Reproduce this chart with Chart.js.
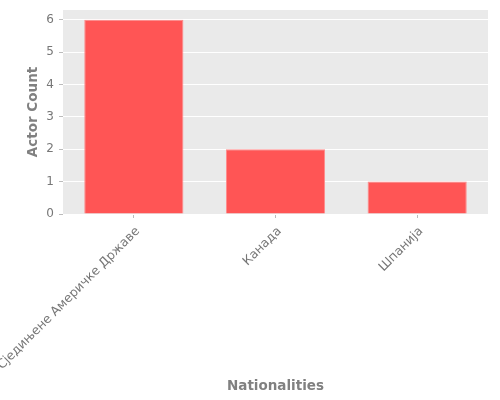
<!DOCTYPE html>
<html>
<head>
<meta charset="utf-8">
<script src="https://cdn.jsdelivr.net/npm/chart.js@4"></script>
<style>
  html, body { margin: 0; padding: 0; background: #fff; }
  #wrap { width: 500px; height: 400px; }
</style>
</head>
<body>
<div id="wrap"><canvas id="chart" width="500" height="400"></canvas></div>
<script>
const nationalities = ["Сједињене Америчке Државе", "Канада", "Шпанија"];
const actorCounts = [6, 2, 1];
const yTicks = [0, 1, 2, 3, 4, 5, 6];

// gray panel behind the plot area, ggplot style
const panelBg = {
    id: "panelBg",
    beforeDraw(chart) {
        const { ctx, chartArea: a } = chart;
        ctx.save();
        ctx.fillStyle = "#EAEAEA";
        ctx.fillRect(a.left, a.top, a.right - a.left, a.bottom - a.top);
        ctx.restore();
    },
};

new Chart(document.getElementById("chart"), {
    type: "bar",
    data: {
        labels: nationalities,
        datasets: [
            {
                label: "Actor Count",
                data: actorCounts,
                backgroundColor: "#FF5555",
                borderColor: "#FF8A8A",
                borderWidth: 1,
                barPercentage: 0.7,
                categoryPercentage: 1,
            },
        ],
    },
    options: {
        responsive: false,
        animation: false,
        layout: { padding: { top: 10, right: 12, left: 25, bottom: 4 } },
        plugins: {
            legend: { display: false },
            tooltip: { enabled: false },
        },
        scales: {
            x: {
                offset: true,
                border: { display: false },
                grid: {
                    offset: false,
                    drawOnChartArea: false,
                    tickColor: "#BBBBBB",
                    tickLength: 4,
                },
                ticks: {
                    color: "#777777",
                    font: { family: "DejaVu Sans", size: 12.5 },
                    minRotation: 45,
                    maxRotation: 45,
                    padding: 6,
                    labelOffset: 4,
                },
                title: {
                    display: true,
                    text: "Nationalities",
                    color: "#808080",
                    font: { family: "DejaVu Sans", size: 13.5, weight: "bold" },
                    padding: { top: 0, bottom: 1 },
                },
                afterFit(scale) {
                    scale.paddingLeft = 0;
                    scale.paddingRight = 0;
                    scale.height = 182;
                },
            },
            y: {
                min: 0,
                max: 6.3,
                border: { display: false },
                afterBuildTicks(scale) {
                    scale.ticks = yTicks.map((v) => ({ value: v }));
                },
                afterFit(scale) {
                    scale.width = 38;
                    scale.paddingTop = 0;
                    scale.paddingBottom = 0;
                },
                grid: {
                    color: "#FFFFFF",
                    lineWidth: 1,
                    tickColor: "#BBBBBB",
                    tickLength: 4,
                },
                ticks: {
                    color: "#777777",
                    font: { family: "DejaVu Sans", size: 12 },
                    padding: 5,
                },
                title: {
                    display: true,
                    text: "Actor Count",
                    color: "#808080",
                    font: { family: "DejaVu Sans", size: 13.5, weight: "bold" },
                    padding: { top: 0, bottom: 6 },
                },
            },
        },
    },
    plugins: [panelBg],
});
</script>
</body>
</html>
